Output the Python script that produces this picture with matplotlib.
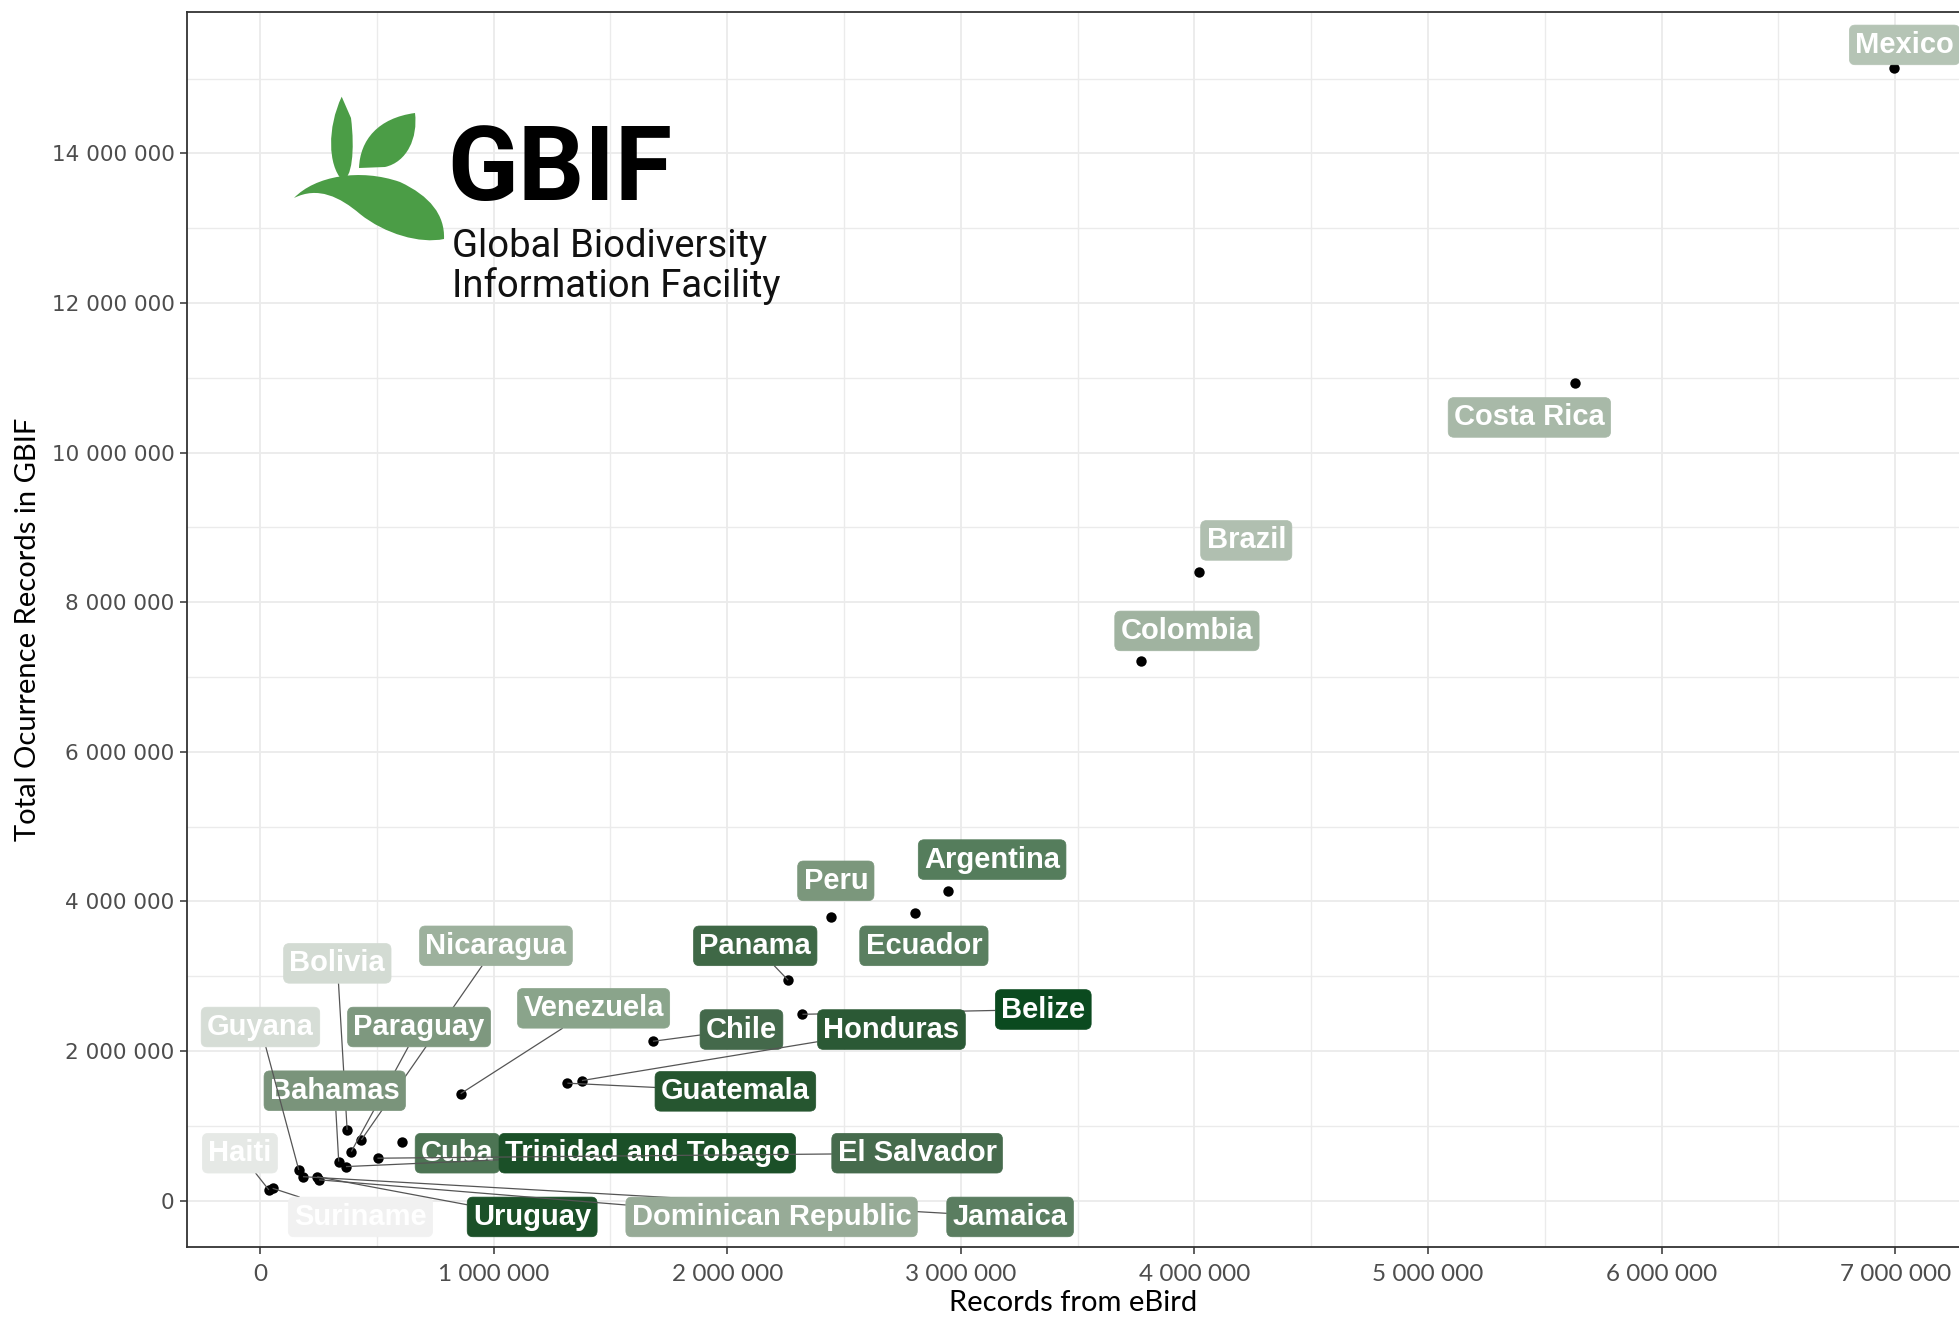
import numpy as np
import matplotlib.pyplot as plt
from matplotlib.path import Path
from matplotlib.patches import PathPatch
from matplotlib.ticker import MultipleLocator, FuncFormatter

# data (records from eBird vs total GBIF records)
countries = ["Mexico", "Costa Rica", "Brazil", "Colombia", "Argentina", "Peru",
             "Ecuador", "Panama", "Belize", "Chile", "Honduras", "Guatemala",
             "Venezuela", "Nicaragua", "Paraguay", "Bolivia", "Bahamas", "Guyana",
             "Haiti", "Suriname", "Jamaica", "Uruguay", "Dominican Republic",
             "Cuba", "Trinidad and Tobago", "El Salvador"]
ebird = [6995000, 5631000, 4021000, 3770000, 2944000, 2444000,
         2805000, 2261000, 2322000, 1682000, 1378000, 1316000,
         859000, 434000, 391000, 373000, 337000, 166000,
         38000, 54000, 184000, 245000, 253000,
         606000, 368000, 503000]
gbif = [15140000, 10930000, 8400000, 7220000, 4134000, 3786000,
        3844000, 2946000, 2491000, 2130000, 1605000, 1570000,
        1430000, 812000, 656000, 946000, 522000, 410000,
        143000, 165000, 320000, 320000, 278000,
        790000, 455000, 567000]

# label fill colours
fills = ["#b5c4b5", "#a8b9a8", "#b0bfb0", "#a0b3a0", "#557d5c", "#7b977c",
         "#5a7f60", "#3f6846", "#0b4a1f", "#44694b", "#2b5935", "#265630",
         "#8aa48b", "#9db19d", "#7e987f", "#d3dbd3", "#7a947b", "#d6ddd6",
         "#e6e9e6", "#f1f1f1", "#5a7d60", "#1b5028", "#97ab97",
         "#4c7453", "#1b5028", "#466b4d"]

# where the repelled labels sit (data units, label centres)
label_pos = [(7.04e6, 15.45e6), (5.434e6, 10.47e6), (4.222e6, 8.826e6),
             (3.968e6, 7.616e6), (3.134e6, 4.559e6), (2.465e6, 4.275e6),
             (2.842e6, 3.406e6), (2.120e6, 3.406e6), (3.353e6, 2.555e6),
             (2.061e6, 2.287e6), (2.703e6, 2.287e6), (2.035e6, 1.461e6),
             (1.428e6, 2.571e6), (1.010e6, 3.406e6), (0.681e6, 2.321e6),
             (0.331e6, 3.172e6), (0.320e6, 1.469e6), (0.002e6, 2.321e6),
             (-0.086e6, 0.634e6), (0.430e6, -0.218e6), (3.211e6, -0.218e6),
             (1.165e6, -0.218e6), (2.190e6, -0.218e6), (0.845e6, 0.634e6),
             (1.658e6, 0.634e6), (2.813e6, 0.634e6)]

# labels sitting right next to their point get no connector
no_segment = {"Mexico", "Costa Rica", "Brazil", "Colombia", "Argentina",
              "Peru", "Ecuador", "Cuba"}

W, H = 1959, 1321
fig = plt.figure(figsize=(W / 100, H / 100), dpi=100)
ax = fig.add_axes([187 / W, 1 - 1247 / H, 1 - 187 / W, (1247 - 12) / H])

ax.set_xlim(-0.3125e6, 7.273e6)
ax.set_ylim(-0.62e6, 15.89e6)

ax.xaxis.set_major_locator(MultipleLocator(1e6))
ax.xaxis.set_minor_locator(MultipleLocator(0.5e6))
ax.yaxis.set_major_locator(MultipleLocator(2e6))
ax.yaxis.set_minor_locator(MultipleLocator(1e6))
fmt = FuncFormatter(lambda v, p: f"{int(round(v)):,}".replace(",", " "))
ax.xaxis.set_major_formatter(fmt)
ax.yaxis.set_major_formatter(fmt)

ax.grid(True, which="major", color="#ebebeb", lw=1.3, zorder=0)
ax.grid(True, which="minor", color="#ebebeb", lw=1.0, zorder=0)
ax.set_axisbelow(True)
for s in ["left", "bottom", "top"]:
    ax.spines[s].set_color("#333333")
    ax.spines[s].set_linewidth(1.3)
ax.spines["right"].set_visible(False)

ax.tick_params(which="major", length=5, width=1.1, color="#333333", labelcolor="#4d4d4d")
ax.tick_params(which="minor", length=0)
for t in ax.get_xticklabels():
    t.set_fontfamily("Lato")
    t.set_fontsize(17.5)
for t in ax.get_yticklabels():
    t.set_fontfamily("DejaVu Sans")
    t.set_fontsize(15.5)
ax.tick_params(axis="x", pad=7)
ax.tick_params(axis="y", pad=4)

ax.set_xlabel("Records from eBird", fontfamily="Lato", fontsize=21, labelpad=4)
ax.set_ylabel("Total Ocurrence Records in GBIF", fontfamily="Lato", fontsize=21, labelpad=8)

ax.scatter(ebird, gbif, s=56, color="black", zorder=5, linewidths=0)

texts = []
for i, (name, fc) in enumerate(zip(countries, fills)):
    lx, ly = label_pos[i]
    t = ax.text(lx, ly, name, ha="center", va="center", fontsize=21,
                fontweight="bold", fontfamily="Liberation Sans", color="white",
                zorder=10 + 2 * i,
                bbox=dict(boxstyle="round,pad=0.2,rounding_size=0.2",
                          fc=fc, ec=fc, lw=0.5))
    texts.append(t)

# segments from each point to the edge of its label box
fig.canvas.draw()
r = fig.canvas.get_renderer()
inv = ax.transData.inverted()
for i, t in enumerate(texts):
    if countries[i] in no_segment:
        continue
    bb = t.get_bbox_patch().get_window_extent(r)
    P = ax.transData.transform((ebird[i], gbif[i]))
    C = np.array([(bb.x0 + bb.x1) / 2, (bb.y0 + bb.y1) / 2])
    if bb.x0 <= P[0] <= bb.x1 and bb.y0 <= P[1] <= bb.y1:
        continue
    d = C - P
    hits = []
    for xe in (bb.x0, bb.x1):
        if d[0] != 0:
            k = (xe - P[0]) / d[0]
            yy = P[1] + k * d[1]
            if 0 <= k <= 1 and bb.y0 <= yy <= bb.y1:
                hits.append(k)
    for ye in (bb.y0, bb.y1):
        if d[1] != 0:
            k = (ye - P[1]) / d[1]
            xx = P[0] + k * d[0]
            if 0 <= k <= 1 and bb.x0 <= xx <= bb.x1:
                hits.append(k)
    if not hits:
        continue
    k = min(hits)
    if k * np.hypot(*d) < 12:
        continue
    E = inv.transform(P + k * d)
    ax.plot([ebird[i], E[0]], [gbif[i], E[1]], color="#555555", lw=0.9,
            zorder=10 + 2 * i - 1, solid_capstyle="butt")

# GBIF logo, drawn in pixel coordinates of the picture
lg = fig.add_axes([0, 0, 1, 1], zorder=20)
lg.set_xlim(0, W)
lg.set_ylim(H, 0)
lg.axis("off")
lg.patch.set_alpha(0)

green = "#4b9d46"
leaf1 = [(341.7, 96.7), (327, 128), (328, 165), (342, 180),
         (352, 180), (355, 150), (351, 118), (341.7, 96.7)]
leaf2 = [(359, 168), (360, 140), (378, 118), (415, 113),
         (418, 138), (407, 162), (385, 167), (359, 168)]
leaf3 = [(294, 198), (315, 176), (360, 168), (400, 182),
         (430, 196), (445, 215), (444, 239),
         (420, 244), (385, 234), (360, 214),
         (340, 197), (318, 186), (294, 198)]
codes1 = [Path.MOVETO, Path.CURVE4, Path.CURVE4, Path.CURVE4,
          Path.CURVE4, Path.CURVE4, Path.CURVE4, Path.CLOSEPOLY]
codes3 = [Path.MOVETO] + [Path.CURVE4] * 12
for verts, codes in [(leaf1, codes1), (leaf2, codes1), (leaf3, codes3)]:
    lg.add_patch(PathPatch(Path(verts, codes), fc=green, ec="none"))

lg.text(447, 200, "GBIF", fontsize=75, fontweight="bold", fontfamily="Roboto",
        color="black", ha="left", va="baseline")
lg.text(452, 257, "Global Biodiversity", fontsize=27.5, fontfamily="Roboto",
        color="#111111", ha="left", va="baseline")
lg.text(452, 297, "Information Facility", fontsize=27.5, fontfamily="Roboto",
        color="#111111", ha="left", va="baseline")

fig.savefig("out.png", dpi=100)
